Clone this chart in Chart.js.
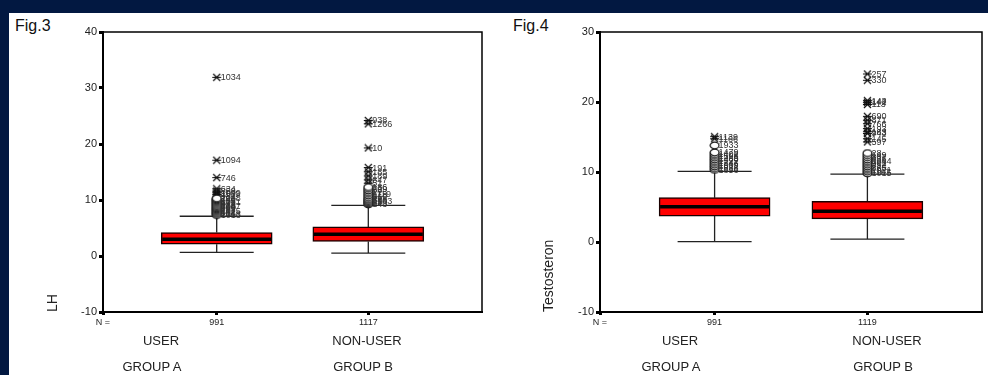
<!DOCTYPE html>
<html>
<head>
<meta charset="utf-8">
<script src="https://cdn.jsdelivr.net/npm/chart.js@4.4.0/dist/chart.umd.min.js"></script>
<style>
  body { margin: 0; width: 988px; height: 375px; overflow: hidden; position: relative; background: #021841; font-family: Arial, "Liberation Sans", sans-serif; }
  #panel { position: absolute; left: 9px; top: 13px; width: 979px; height: 362px; background: #fff; }
  canvas { position: absolute; top: 0; }
  .lbl { position: absolute; transform: translate(-50%, -50%); font-size: 13px; color: #222; white-space: nowrap; }
  .fig { position: absolute; top: 17px; font-size: 16px; color: #111; }
</style>
</head>
<body>
<div id="panel"></div>
<div class="fig" style="left:15px">Fig.3</div>
<div class="fig" style="left:513px">Fig.4</div>
<canvas id="lhChart" width="494" height="375" style="left:0"></canvas>
<canvas id="tChart" width="494" height="375" style="left:494px"></canvas>
<div id="labels"></div>
<script>
// groups (x positions on a 0..10 axis)
const groups = ['USER', 'NON-USER'];
const groupNames = ['GROUP A', 'GROUP B'];
const groupX = [3, 7];

// Fig.3 - LH
const lhCounts = [991, 1117];
const lhMin = [0.65, 0.5];
const lhQ1 = [2.1, 2.6];
const lhMedian = [3.0, 3.9];
const lhQ3 = [4.2, 5.2];
const lhMax = [7.1, 9.05];
const lhUserOut = [7.3, 7.5, 7.7, 7.9, 8.1, 8.3, 8.5, 8.7, 8.9, 9.1, 9.3, 9.5, 9.7, 9.9, 10.1, 10.3];
const lhUserOutIds = ['1013', '1068', '918', '862', '1075', '787', '969', '700', '1047', '823', '912', '675', '1021', '955', '740', '1088'];
const lhUserExt = [10.7, 11.0, 11.3, 11.6, 12.0, 14.0, 17.1, 31.9];
const lhUserExtIds = ['981', '1109', '1049', '858', '634', '746', '1094', '1034'];
const lhNonOut = [9.2, 9.4, 9.6, 9.8, 10.0, 10.2, 10.5, 10.8, 11.1, 11.4, 11.7, 12.0, 12.3];
const lhNonOutIds = ['143', '620', '95', '1203', '388', '47', '862', '510', '1119', '273', '86', '729', '186'];
const lhNonExt = [13.0, 13.6, 14.3, 15.05, 15.8, 19.3, 23.6, 24.2];
const lhNonExtIds = ['51', '847', '189', '185', '191', '10', '1266', '938'];

// Fig.4 - Testosteron
const tCounts = [991, 1119];
const tMin = [0.05, 0.4];
const tQ1 = [3.7, 3.3];
const tMedian = [5.05, 4.4];
const tQ3 = [6.33, 5.8];
const tMax = [10.1, 9.7];
const tUserOut = [10.3, 10.55, 10.8, 11.05, 11.3, 11.55, 11.8, 12.05, 12.3, 12.55, 12.8, 13.8];
const tUserOutIds = ['1856', '1838', '1612', '1509', '1347', '1722', '1460', '1285', '1598', '1402', '1479', '1933'];
const tUserExt = [14.75, 15.05];
const tUserExtIds = ['1166', '1139'];
const tNonOut = [9.8, 10.05, 10.3, 10.55, 10.8, 11.05, 11.3, 11.55, 11.8, 12.1, 12.4, 12.7];
const tNonOutIds = ['1015', '1107', '1021', '865', '714', '452', '902', '1044', '636', '387', '149', '28'];
const tNonExt = [14.3, 14.75, 15.5, 15.75, 16.2, 16.9, 17.4, 17.95, 19.65, 19.95, 20.2, 23.1, 24.0];
const tNonExtIds = ['597', '145', '943', '163', '193', '766', '871', '690', '113', '142', '143', '330', '257'];

// SPSS-like markers: open ellipse and asterisk
function marker(kind) {
  const c = document.createElement('canvas');
  c.width = 11; c.height = 9;
  const g = c.getContext('2d');
  g.strokeStyle = '#111';
  g.lineWidth = 1.2;
  g.beginPath();
  if (kind === 'o') {
    g.fillStyle = '#fff';
    g.ellipse(5.5, 4.5, 4.4, 3.3, 0, 0, Math.PI * 2);
    g.fill();
  } else {
    g.moveTo(1, 4.5); g.lineTo(10, 4.5);
    g.moveTo(2, 1); g.lineTo(9, 8);
    g.moveTo(9, 1); g.lineTo(2, 8);
  }
  g.stroke();
  return c;
}
const circleMark = marker('o');
const starMark = marker('*');

const boxExtras = {
  id: 'boxExtras',
  beforeDatasetsDraw(chart, args, o) {
    const { ctx, scales: { x, y } } = chart;
    ctx.save();
    ctx.strokeStyle = '#222';
    ctx.lineWidth = 1.3;
    groupX.forEach((g, i) => {
      const px = x.getPixelForValue(g);
      ctx.beginPath();
      ctx.moveTo(px, y.getPixelForValue(o.q3[i])); ctx.lineTo(px, y.getPixelForValue(o.max[i]));
      ctx.moveTo(px, y.getPixelForValue(o.q1[i])); ctx.lineTo(px, y.getPixelForValue(o.min[i]));
      [o.max[i], o.min[i]].forEach(v => {
        const py = y.getPixelForValue(v);
        ctx.moveTo(px - 37, py); ctx.lineTo(px + 37, py);
      });
      ctx.stroke();
    });
    ctx.restore();
  },
  afterDatasetsDraw(chart, args, o) {
    const { ctx, chartArea, scales: { x, y } } = chart;
    ctx.save();
    // medians
    const bars = chart.getDatasetMeta(0).data;
    ctx.strokeStyle = '#000';
    ctx.lineWidth = 3.5;
    bars.forEach((b, i) => {
      const py = y.getPixelForValue(o.median[i]);
      ctx.beginPath();
      ctx.moveTo(b.x - b.width / 2 + 1, py); ctx.lineTo(b.x + b.width / 2 - 1, py);
      ctx.stroke();
    });
    // outlier case numbers
    ctx.font = '9px Arial';
    ctx.fillStyle = '#333';
    ctx.textBaseline = 'middle';
    chart.data.datasets.forEach((ds, i) => {
      if (!ds.ids) return;
      chart.getDatasetMeta(i).data.forEach((pt, j) => ctx.fillText(ds.ids[j], pt.x + 4, pt.y + 0.5));
    });
    // top and right frame
    ctx.strokeStyle = '#000';
    ctx.lineWidth = 1.5;
    ctx.beginPath();
    ctx.moveTo(chartArea.left, chartArea.top); ctx.lineTo(chartArea.right, chartArea.top);
    ctx.lineTo(chartArea.right, chartArea.bottom);
    ctx.stroke();
    ctx.restore();
  }
};

function points(g, vals) {
  return vals.map(v => ({ x: groupX[g], y: v }));
}

function outlierSet(vals, ids, mark) {
  return { type: 'scatter', data: vals, ids: ids, pointStyle: mark, pointRadius: 4, pointHoverRadius: 4 };
}

function buildChart(id, s) {
  return new Chart(document.getElementById(id), {
    type: 'bar',
    data: {
      datasets: [
        {
          data: groupX.map((g, i) => ({ x: g, y: [s.q1[i], s.q3[i]] })),
          backgroundColor: '#ff0000',
          borderColor: '#1a0000',
          borderWidth: 1.5,
          borderSkipped: false,
          barThickness: 111
        },
        outlierSet(points(0, s.userOut), s.userOutIds, circleMark),
        outlierSet(points(0, s.userExt), s.userExtIds, starMark),
        outlierSet(points(1, s.nonOut), s.nonOutIds, circleMark),
        outlierSet(points(1, s.nonExt), s.nonExtIds, starMark)
      ]
    },
    options: {
      responsive: false,
      animation: false,
      layout: { padding: { top: 32, right: s.padRight, left: 0, bottom: 0 } },
      plugins: {
        legend: { display: false },
        tooltip: { enabled: false },
        boxExtras: s
      },
      scales: {
        x: {
          type: 'linear', min: 0, max: 10, offset: false,
          afterBuildTicks: sc => { sc.ticks = [0, ...groupX].map(v => ({ value: v })); },
          afterFit: sc => { sc.height = 63; },
          ticks: {
            callback: v => v === 0 ? 'N =' : s.counts[groupX.indexOf(v)],
            font: { size: 9, family: 'Arial' }, color: '#222', padding: 2, maxRotation: 0, autoSkip: false
          },
          grid: { drawOnChartArea: false, offset: false, tickLength: 3, tickWidth: 3, color: '#000' },
          border: { color: '#000', width: 2 }
        },
        y: {
          min: -10, max: s.yMax,
          afterFit: sc => { sc.width = s.axisWidth; },
          ticks: { stepSize: 10, font: { size: 11, family: 'Arial' }, color: '#222', padding: 2 },
          grid: { drawOnChartArea: false, tickLength: 4, tickWidth: 3, color: '#000' },
          border: { color: '#000', width: 2 },
          title: { display: true, text: s.title, align: 'start', color: '#222', font: { size: 14, family: 'Arial' }, padding: { top: s.titlePad } }
        }
      }
    },
    plugins: [boxExtras]
  });
}

buildChart('lhChart', {
  title: 'LH', yMax: 40, axisWidth: 103, padRight: 12, titlePad: 45, counts: lhCounts,
  min: lhMin, q1: lhQ1, median: lhMedian, q3: lhQ3, max: lhMax,
  userOut: lhUserOut, userOutIds: lhUserOutIds, userExt: lhUserExt, userExtIds: lhUserExtIds,
  nonOut: lhNonOut, nonOutIds: lhNonOutIds, nonExt: lhNonExt, nonExtIds: lhNonExtIds
});

buildChart('tChart', {
  title: 'Testosteron', yMax: 30, axisWidth: 106, padRight: 6, titlePad: 47, counts: tCounts,
  min: tMin, q1: tQ1, median: tMedian, q3: tQ3, max: tMax,
  userOut: tUserOut, userOutIds: tUserOutIds, userExt: tUserExt, userExtIds: tUserExtIds,
  nonOut: tNonOut, nonOutIds: tNonOutIds, nonExt: tNonExt, nonExtIds: tNonExtIds
});

// group captions under each panel
const captionX = [[161, 367], [680, 887]];
const groupX2 = [[152, 363], [671, 883]];
const labels = document.getElementById('labels');
[0, 1].forEach(p => {
  groups.forEach((g, i) => {
    labels.insertAdjacentHTML('beforeend', `<div class="lbl" style="left:${captionX[p][i]}px;top:340px">${g}</div>`);
    labels.insertAdjacentHTML('beforeend', `<div class="lbl" style="left:${groupX2[p][i]}px;top:366px">${groupNames[i]}</div>`);
  });
});
</script>
</body>
</html>
